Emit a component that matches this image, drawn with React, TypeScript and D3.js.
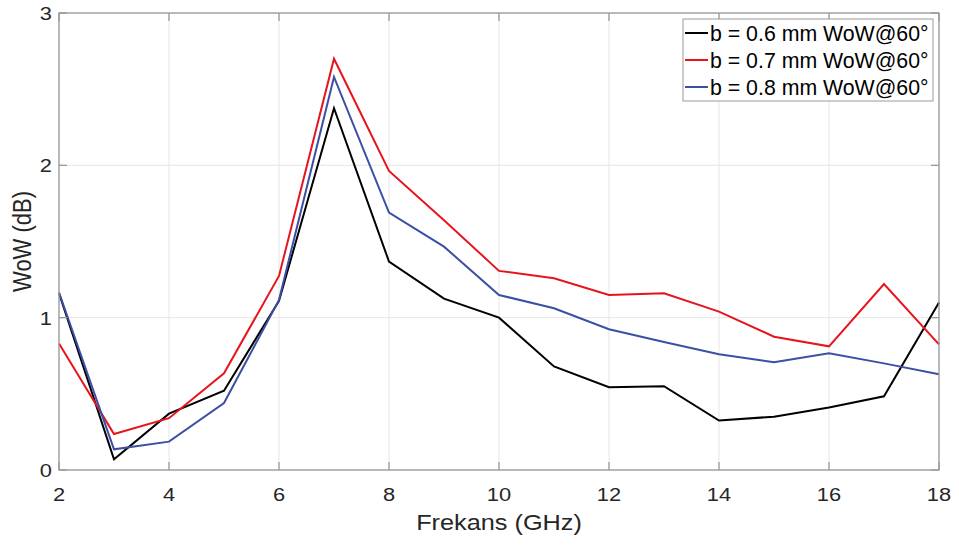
import React from "react";
import * as d3 from "d3";

const freqs = [2, 3, 4, 5, 6, 7, 8, 9, 10, 11, 12, 13, 14, 15, 16, 17, 18];
const b06 = [1.16, 0.07, 0.37, 0.52, 1.11, 2.375, 1.368, 1.125, 1.0, 0.68, 0.543, 0.55, 0.325, 0.35, 0.41, 0.484, 1.1];
const b07 = [0.83, 0.236, 0.34, 0.635, 1.274, 2.70, 1.963, 1.64, 1.307, 1.259, 1.149, 1.16, 1.04, 0.875, 0.812, 1.221, 0.825];
const b08 = [1.165, 0.136, 0.186, 0.44, 1.116, 2.58, 1.69, 1.466, 1.149, 1.062, 0.924, 0.84, 0.76, 0.707, 0.767, 0.70, 0.628];
const seriesNames = ["b = 0.6 mm WoW@60°", "b = 0.7 mm WoW@60°", "b = 0.8 mm WoW@60°"];
const seriesColors = ["#000000", "#e8141c", "#3b4fa5"];
const xTicks = [2, 4, 6, 8, 10, 12, 14, 16, 18];
const yTicks = [0, 1, 2, 3];

export default function App() {
  const W = 959, H = 545;
  const L = 59, R = 939, T = 13, B = 470;
  const x = d3.scaleLinear().domain([2, 18]).range([L, R]);
  const y = d3.scaleLinear().domain([0, 3]).range([B, T]);
  const line = d3.line<number>().x((_, i) => x(freqs[i])).y((d) => y(d));
  const all = [b06, b07, b08];
  const font = "'Liberation Sans', Arial, sans-serif";
  const axisColor = "#9a9a9a";
  const textColor = "#262626";
  const sx = 1.15;
  const lg = { x: 683, y: 19, w: 250, h: 82 };
  return (
    <div style={{ position: "absolute", left: 0, top: 0 }}>
      <svg width={W} height={H} style={{ display: "block", background: "#fff" }}>
        {xTicks.map((t) => (
          <line key={"gx" + t} x1={x(t)} x2={x(t)} y1={T} y2={B} stroke="#e6e6e6" strokeWidth={1} />
        ))}
        {yTicks.map((t) => (
          <line key={"gy" + t} x1={L} x2={R} y1={y(t)} y2={y(t)} stroke="#e6e6e6" strokeWidth={1} />
        ))}
        {all.map((s, i) => (
          <path key={"s" + i} d={line(s) || ""} fill="none" stroke={seriesColors[i]} strokeWidth={2} strokeLinejoin="miter" />
        ))}
        <rect x={L} y={T} width={R - L} height={B - T} fill="none" stroke={axisColor} strokeWidth={1.3} />
        {xTicks.map((t) => (
          <g key={"tx" + t}>
            <line x1={x(t)} x2={x(t)} y1={B} y2={B - 8} stroke={axisColor} strokeWidth={1.3} />
            <line x1={x(t)} x2={x(t)} y1={T} y2={T + 8} stroke={axisColor} strokeWidth={1.3} />
            <text transform={`translate(${x(t)},${B + 31}) scale(${sx},1)`} textAnchor="middle" fontFamily={font} fontSize={19} fill={textColor}>{t}</text>
          </g>
        ))}
        {yTicks.map((t) => (
          <g key={"ty" + t}>
            <line x1={L} x2={L + 8} y1={y(t)} y2={y(t)} stroke={axisColor} strokeWidth={1.3} />
            <line x1={R} x2={R - 8} y1={y(t)} y2={y(t)} stroke={axisColor} strokeWidth={1.3} />
            <text transform={`translate(${L - 7},${y(t) + 7}) scale(${sx},1)`} textAnchor="end" fontFamily={font} fontSize={19} fill={textColor}>{t}</text>
          </g>
        ))}
        <text transform={`translate(${(L + R) / 2},530) scale(${sx},1)`} textAnchor="middle" fontFamily={font} fontSize={22} fill={textColor}>Frekans (GHz)</text>
        <text transform={`translate(31,${(T + B) / 2}) scale(${sx},1) rotate(-90)`} textAnchor="middle" fontFamily={font} fontSize={22} fill={textColor}>WoW (dB)</text>
        <rect x={lg.x} y={lg.y} width={lg.w} height={lg.h} fill="#fff" stroke={axisColor} strokeWidth={1} />
        {seriesNames.map((n, i) => (
          <g key={"lg" + i}>
            <line x1={lg.x + 2} x2={lg.x + 25} y1={lg.y + 14 + i * 27} y2={lg.y + 14 + i * 27} stroke={seriesColors[i]} strokeWidth={2} />
            <text x={lg.x + 27} y={lg.y + 22 + i * 27} fontFamily={font} fontSize={21.3} fill="#000">{n}</text>
          </g>
        ))}
      </svg>
    </div>
  );
}
